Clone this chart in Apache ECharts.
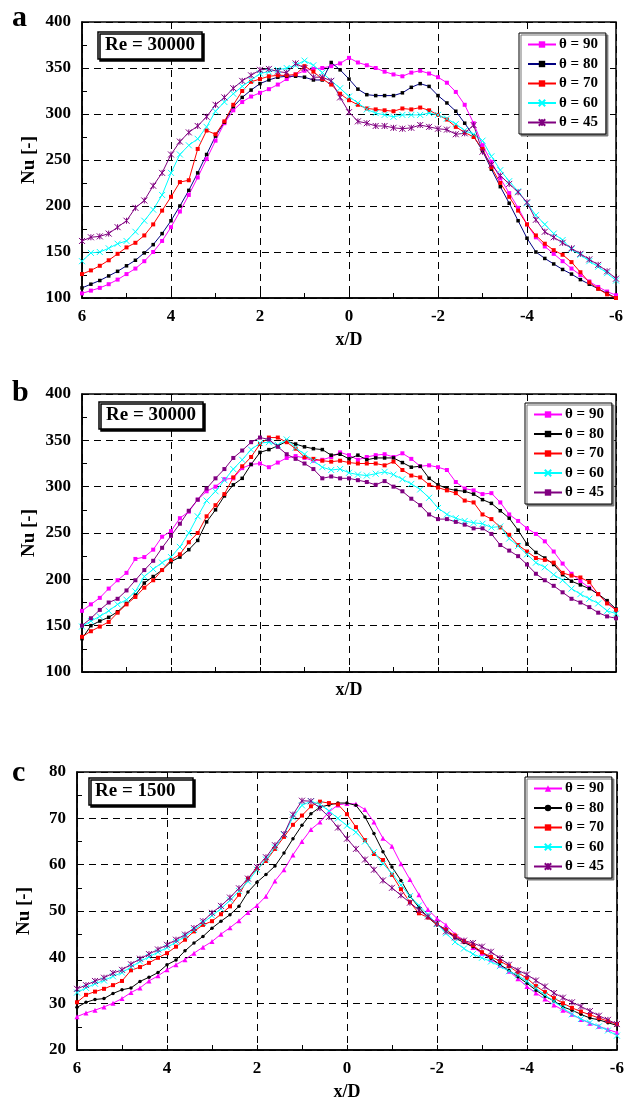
<!DOCTYPE html>
<html><head><meta charset="utf-8">
<script src="https://cdn.jsdelivr.net/npm/echarts@6/dist/echarts.min.js"></script>
<style>html,body{margin:0;padding:0;background:#fff}#c{width:627px;height:1102px}</style>
</head><body><div id="c"></div>
<script>
// x/D positions (plotted reversed: 6 on the left, -6 on the right)
const xD = [6,5.8,5.6,5.4,5.2,5,4.8,4.6,4.4,4.2,4,3.8,3.6,3.4,3.2,3,2.8,2.6,2.4,2.2,2,1.8,1.6,1.4,1.2,1,0.8,0.6,0.4,0.2,0,-0.2,-0.4,-0.6,-0.8,-1,-1.2,-1.4,-1.6,-1.8,-2,-2.2,-2.4,-2.6,-2.8,-3,-3.2,-3.4,-3.6,-3.8,-4,-4.2,-4.4,-4.6,-4.8,-5,-5.2,-5.4,-5.6,-5.8,-6];
const seriesNames = ['θ = 90','θ = 80','θ = 70','θ = 60','θ = 45'];
const panelLetters = ['a','b','c'];
const reLabels = ['Re = 30000','Re = 30000','Re = 1500'];

// Panel a (Re = 30000)
const a90 = [105,108,111,115,120,126,132,140,150,162,177,194,212,231,251,271,290,304,313,319,323,327,332,338,343,347,349,350,352,355,361,356,353,350,346,343,341,345,347,344,340,334,324,310,290,266,248,230,214,198,180,166,156,148,140,132,125,118,112,107,103];
const a80 = [111,115,119,124,129,135,141,149,158,170,184,200,217,236,256,276,291,308,318,326,333,337,340,341,341,340,337,337,356,348,338,327,321,320,320,320,323,329,333,330,320,312,303,290,276,260,240,221,203,184,165,150,143,137,131,126,120,115,110,105,100];
const a70 = [126,130,135,141,148,155,160,168,180,195,210,226,228,262,282,278,292,310,325,335,338,341,342,342,343,352,346,338,332,322,315,310,306,305,304,303,306,305,307,304,299,294,286,280,275,262,242,225,210,195,180,168,159,152,147,139,128,117,110,104,100];
const a60 = [140,149,150,154,159,162,172,184,196,212,236,256,266,273,286,303,313,322,330,337,344,346,348,350,353,358,353,345,336,328,319,312,305,301,299,297,299,299,299,301,299,295,289,282,278,271,254,239,227,216,203,190,180,170,163,153,147,140,134,127,119];
const a45 = [162,166,167,170,177,184,198,206,222,236,256,270,280,287,297,310,318,328,336,342,348,349,346,345,355,350,340,340,336,318,302,292,290,287,287,285,284,285,288,286,284,283,278,279,288,259,245,233,224,215,204,185,172,166,160,154,148,142,136,129,121];

// Panel b (Re = 30000)
const b90 = [166,173,180,190,199,207,222,224,232,246,252,266,273,286,295,300,308,309,320,324,325,321,326,331,333,331,328,329,332,337,334,329,332,334,335,332,336,330,322,323,321,318,305,298,296,292,293,283,270,263,255,249,241,230,217,206,198,191,184,175,167];
const b80 = [136,150,155,159,165,174,183,196,203,210,219,224,232,242,262,275,290,302,309,324,337,340,344,349,346,343,341,340,334,335,330,334,329,331,331,331,326,321,322,309,302,298,296,295,292,286,282,274,266,253,238,229,223,216,205,198,194,190,184,177,168];
const b70 = [138,144,149,154,164,173,181,191,199,210,221,227,240,250,268,280,292,310,322,332,346,353,353,348,341,332,330,328,327,328,326,325,325,325,323,327,318,312,310,302,299,296,293,285,283,270,265,256,248,237,230,223,221,218,207,204,202,197,184,174,167];
const b60 = [149,155,160,166,173,178,187,203,211,218,224,235,250,268,285,295,307,319,329,340,347,348,345,351,342,335,328,321,318,319,315,313,312,314,316,313,308,303,297,288,277,270,266,263,261,260,256,257,244,236,227,218,213,205,199,190,184,179,174,166,163];
const b45 = [150,158,167,175,179,188,199,210,220,234,247,260,274,286,298,309,319,331,339,348,353,351,343,335,330,325,319,309,311,309,309,307,305,302,306,300,295,287,280,270,265,265,262,259,255,255,249,237,231,225,216,206,199,193,186,179,175,170,164,160,158];

// Panel c (Re = 1500)
const c90 = [27.2,28.0,28.6,29.3,30.1,31.1,32.4,33.4,34.9,36.0,37.3,38.4,39.5,40.9,42.2,43.4,45.0,46.4,47.9,49.7,51.2,53.2,56.5,58.9,62.1,65.0,67.6,69.2,71.4,72.9,73.2,73.1,71.9,69.2,65.7,64.0,60.2,56.8,53.5,50.3,48.4,47.0,45.0,43.6,42.1,40.9,39.6,38.3,37.0,35.4,33.7,32.3,31.0,29.7,28.6,27.7,26.6,25.8,25.1,24.4,23.8];
const c80 = [29.2,30.3,30.9,31.1,32.2,33.0,33.4,34.8,35.7,36.7,38.4,39.4,41.4,43.1,44.5,46.3,47.8,49.2,51.0,54.1,56.2,57.9,59.7,62.5,65.6,68.5,71.0,72.4,72.9,73.3,73.3,72.8,70.3,66.7,62.8,59.5,56.6,53.2,50.8,48.6,47.0,46.1,44.2,43.2,42.3,41.1,39.8,38.4,37.2,35.8,34.4,32.9,31.6,30.6,29.3,28.6,27.7,26.9,26.5,25.9,25.3];
const c70 = [30.3,31.9,32.6,33.2,34.0,34.9,37.2,37.9,38.8,39.9,40.9,42.3,43.8,45.6,47.0,47.8,49.3,51.0,53.5,57.0,59.1,60.8,63.4,66.0,68.6,70.6,72.6,73.6,73.3,73.0,70.9,68.1,65.3,62.3,61.0,57.8,54.7,51.9,49.5,48.6,47.2,45.9,44.7,43.5,42.6,41.1,40.1,39.2,38.1,36.7,35.5,33.8,32.5,31.2,30.1,29.1,28.3,27.6,26.9,26.2,25.6];
const c60 = [32.4,33.4,34.3,35.0,35.9,36.7,37.9,39.1,40.1,41.1,42.1,43.3,44.5,45.9,47.4,49.0,50.5,52.3,54.3,56.4,58.9,61.1,63.7,66.5,70.2,72.8,73.7,73.0,71.6,70.0,68.4,67.0,65.0,62.7,60.2,58.1,55.6,53.2,51.2,49.2,47.2,45.2,43.3,41.9,40.7,39.9,39.1,38.1,37.0,36.1,34.8,33.3,31.9,30.5,29.1,27.7,26.7,25.9,25.1,24.2,23.1];
const c45 = [33.2,34.0,34.9,35.6,36.6,37.3,38.5,39.7,40.7,41.7,42.7,43.8,44.9,46.3,47.8,49.6,51.1,52.9,54.9,57.0,59.5,61.6,64.2,66.6,70.8,73.8,73.7,72.2,70.3,68.0,65.6,63.4,61.1,58.9,56.6,55.0,53.4,51.8,50.2,48.8,47.3,45.6,44.3,43.6,43.1,42.3,41.2,39.8,38.4,37.2,36.3,35.0,33.7,32.3,31.3,30.3,29.4,28.4,27.4,26.5,25.6];

const panelData = [[a90,a80,a70,a60,a45],[b90,b80,b70,b60,b45],[c90,c80,c70,c60,c45]];
const yRanges = [[100,400,50],[100,400,50],[20,80,10]];

const FONT = 'Liberation Serif';
const X_SYM = 'path://M0,0L10,10M10,0L0,10';
const STAR_SYM = 'path://M0,0L10,10M10,0L0,10M5,0L5,10';
const colors = ['#ff00ff','#000000','#ff0000','#00ffff','#800080'];
const lineColors = [
  ['#ff00ff','#000080','#ff0000','#00ffff','#800080'],
  ['#ff00ff','#000000','#ff0000','#00ffff','#800080'],
  ['#ff00ff','#000000','#ff0000','#00ffff','#800080']
];
const symbols = [
  ['rect','rect','rect',X_SYM,STAR_SYM],
  ['rect','rect','rect',X_SYM,'rect'],
  ['triangle','circle','rect',X_SYM,STAR_SYM]
];
const symSizes = [[4,3.5,4,6,6],[4,3.5,4,6,4],[5,3.5,4,6,6]];

const grids = [
  {left:82, top:22, width:534, height:276},
  {left:82, top:394, width:534, height:278},
  {left:77, top:772, width:542, height:278}
];
const legendPos = [{left:519, top:33},{left:525, top:403},{left:525, top:777}];
const rePos = [{left:98, top:32, padding:[4,7,4,7]},{left:99, top:402, padding:[4,7,4,7]},{left:89, top:778, padding:[4,18,4,6]}];
const letterTops = [3, 378, 758];

const dash = [7,5];
const option = {
  animation:false,
  backgroundColor:'#fff',
  title: [],
  legend: [],
  grid: grids.map(g => Object.assign({show:true, borderColor:'#000', borderWidth:1.5, backgroundColor:'transparent'}, g)),
  xAxis: [], yAxis: [], series: []
};

for (let p=0;p<3;p++){
  option.title.push({text:panelLetters[p], left:12, top:letterTops[p], padding:0,
    textStyle:{fontFamily:FONT, fontWeight:'bold', fontSize:30, color:'#000'}});
  option.title.push({text:reLabels[p], left:rePos[p].left, top:rePos[p].top, padding:rePos[p].padding,
    borderColor:'#000', borderWidth:1.5, backgroundColor:'#fff',
    shadowColor:'#000', shadowOffsetX:2, shadowOffsetY:2, shadowBlur:0,
    textStyle:{fontFamily:FONT, fontWeight:'bold', fontSize:19, color:'#000'}});
  option.xAxis.push({
    type:'value', gridIndex:p, inverse:true, min:-6, max:6, interval:2,
    name:'x/D', nameLocation:'middle', nameGap: p===1 ? 9 : 33,
    nameTextStyle:{fontFamily:FONT, fontWeight:'bold', fontSize:18, color:'#000'},
    axisLine:{show:true, onZero:false, lineStyle:{color:'#000', width:1.5}},
    axisTick:{show:true, inside:true, length:5, lineStyle:{color:'#000'}},
    minorTick:{show:true, splitNumber:2, length:5, lineStyle:{color:'#000', width:1}},
    axisLabel:{show: p!==1, margin:10, fontFamily:FONT, fontWeight:'bold', fontSize:17, color:'#000'},
    splitLine:{show:true, lineStyle:{color:'#000', type:dash, width:1}}
  });
  option.yAxis.push({
    type:'value', gridIndex:p, min:yRanges[p][0], max:yRanges[p][1], interval:yRanges[p][2],
    name:'Nu [-]', nameLocation:'middle', nameGap:43, nameRotate:90, nameMoveOverlap:false,
    nameTextStyle:{fontFamily:FONT, fontWeight:'bold', fontSize:19, color:'#000'},
    axisLine:{show:true, onZero:false, lineStyle:{color:'#000', width:1.5}},
    axisTick:{show:true, inside:true, length:5, lineStyle:{color:'#000'}},
    minorTick:{show:true, splitNumber:2, length:5, lineStyle:{color:'#000', width:1}},
    axisLabel:{margin:11, fontFamily:FONT, fontWeight:'bold', fontSize:17, color:'#000'},
    splitLine:{show:true, lineStyle:{color:'#000', type:dash, width:1}}
  });
  const names = [];
  for (let s=0;s<5;s++){
    const nm = panelLetters[p] + '|' + seriesNames[s];
    names.push(nm);
    const isPath = typeof symbols[p][s]==='string' && symbols[p][s].indexOf('path://')===0;
    option.series.push({
      type:'line', name:nm, xAxisIndex:p, yAxisIndex:p,
      data: xD.map((x,i)=>[x, panelData[p][s][i]]),
      symbol: symbols[p][s], symbolSize: symSizes[p][s], showSymbol:true,
      lineStyle:{color:lineColors[p][s], width:1},
      itemStyle: isPath ? {color:colors[s], borderColor:colors[s], borderWidth:1}
                        : {color:colors[s], borderWidth:0},
      emphasis:{disabled:true}
    });
  }
  option.legend.push({
    data: names, orient:'vertical', left:legendPos[p].left, top:legendPos[p].top,
    padding:[4,8,4,8], itemGap:4.5, itemWidth:28, itemHeight:8,
    backgroundColor:'#fff', borderColor:'#000', borderWidth:1,
    shadowColor:'#777', shadowOffsetX:2, shadowOffsetY:2, shadowBlur:0,
    selectedMode:false,
    formatter: n => n.split('|')[1],
    textStyle:{fontFamily:FONT, fontWeight:'bold', fontSize:15, color:'#000', padding:[0,0,0,-2]}
  });
}

const chart = echarts.init(document.getElementById('c'), null, {renderer:'canvas'});
chart.setOption(option);
</script>
</body></html>
